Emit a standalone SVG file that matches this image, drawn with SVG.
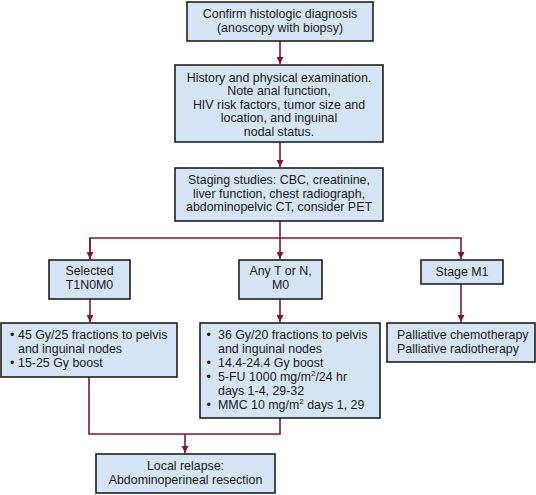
<svg xmlns="http://www.w3.org/2000/svg" width="536" height="495" viewBox="0 0 536 495">
<defs>
<style>
.box{fill:#d5e5f6;stroke:#1e1e1e;stroke-width:1.6}
.t{font-family:"Liberation Sans",Arial,sans-serif;font-size:12.4px;fill:#1a1a1a}
.c{text-anchor:middle}
.ln{fill:none;stroke:#7b1838;stroke-width:1.6}
.sup{font-size:8px}
</style>
<marker id="ah" viewBox="0 0 10 10" refX="10" refY="5" markerWidth="7" markerHeight="7" markerUnits="userSpaceOnUse" orient="auto">
<path d="M0,0 L10,5 L0,10 Z" fill="#7b1838"/>
</marker>
</defs>
<rect width="536" height="495" fill="#ffffff"/>
<g id="connectors">
<line class="ln" x1="280" y1="41" x2="280" y2="64" marker-end="url(#ah)"/>
<line class="ln" x1="280" y1="142" x2="280" y2="167" marker-end="url(#ah)"/>
<line class="ln" x1="280" y1="221" x2="280" y2="259" marker-end="url(#ah)"/>
<polyline class="ln" points="90,259 90,238 461,238 461,259" marker-end="url(#ah)"/>
<line class="ln" x1="90" y1="238" x2="90" y2="259" marker-end="url(#ah)"/>
<line class="ln" x1="90" y1="299" x2="90" y2="322" marker-end="url(#ah)"/>
<line class="ln" x1="280" y1="299" x2="280" y2="322" marker-end="url(#ah)"/>
<line class="ln" x1="461" y1="284" x2="461" y2="322" marker-end="url(#ah)"/>
<polyline class="ln" points="89,377 89,434 280,434 280,418"/>
<line class="ln" x1="185" y1="434" x2="185" y2="453" marker-end="url(#ah)"/>
</g>
<g id="n1">
<rect class="box" x="187" y="2" width="186" height="39"/>
<text class="t c" x="280" y="18">Confirm histologic diagnosis</text>
<text class="t c" x="280" y="32">(anoscopy with biopsy)</text>
</g>
<g id="n2">
<rect class="box" x="175" y="65" width="208" height="77"/>
<text class="t c" x="279" y="81.5">History and physical examination.</text>
<text class="t c" x="279" y="95">Note anal function,</text>
<text class="t c" x="279" y="108.5">HIV risk factors, tumor size and</text>
<text class="t c" x="279" y="122">location, and inguinal</text>
<text class="t c" x="279" y="135.5">nodal status.</text>
</g>
<g id="n3">
<rect class="box" x="175" y="168" width="208" height="53"/>
<text class="t c" x="279" y="184">Staging studies: CBC, creatinine,</text>
<text class="t c" x="279" y="197.5">liver function, chest radiograph,</text>
<text class="t c" x="279" y="211">abdominopelvic CT, consider PET</text>
</g>
<g id="n4">
<rect class="box" x="49" y="260" width="81" height="39"/>
<text class="t c" x="89.5" y="275">Selected</text>
<text class="t c" x="89.5" y="289">T1N0M0</text>
</g>
<g id="n5">
<rect class="box" x="239" y="260" width="83" height="39"/>
<text class="t c" x="280.5" y="275">Any T or N,</text>
<text class="t c" x="280.5" y="289">M0</text>
</g>
<g id="n6">
<rect class="box" x="421" y="260" width="82" height="24"/>
<text class="t c" x="462" y="276">Stage M1</text>
</g>
<g id="n7">
<rect class="box" x="1" y="323" width="176" height="54"/>
<text class="t" x="10" y="339">•</text><text class="t" x="18" y="339">45 Gy/25 fractions to pelvis</text>
<text class="t" x="18" y="353">and inguinal nodes</text>
<text class="t" x="10" y="367">•</text><text class="t" x="18" y="367">15-25 Gy boost</text>
</g>
<g id="n8">
<rect class="box" x="200" y="323" width="180" height="95"/>
<text class="t" x="206.5" y="339">•</text><text class="t" x="218" y="339">36 Gy/20 fractions to pelvis</text>
<text class="t" x="218" y="353">and inguinal nodes</text>
<text class="t" x="206.5" y="367">•</text><text class="t" x="218" y="367">14.4-24.4 Gy boost</text>
<text class="t" x="206.5" y="381">•</text><text class="t" x="218" y="381">5-FU 1000 mg/m<tspan class="sup" baseline-shift="5">2</tspan>/24 hr</text>
<text class="t" x="218" y="395">days 1-4, 29-32</text>
<text class="t" x="206.5" y="409">•</text><text class="t" x="218" y="409">MMC 10 mg/m<tspan class="sup" baseline-shift="5">2</tspan> days 1, 29</text>
</g>
<g id="n9">
<rect class="box" x="387" y="323" width="148" height="39"/>
<text class="t" x="397" y="339">Palliative chemotherapy</text>
<text class="t" x="397" y="353">Palliative radiotherapy</text>
</g>
<g id="n10">
<rect class="box" x="96" y="454" width="179" height="39"/>
<text class="t c" x="185.5" y="470">Local relapse:</text>
<text class="t c" x="185.5" y="484">Abdominoperineal resection</text>
</g>
</svg>
